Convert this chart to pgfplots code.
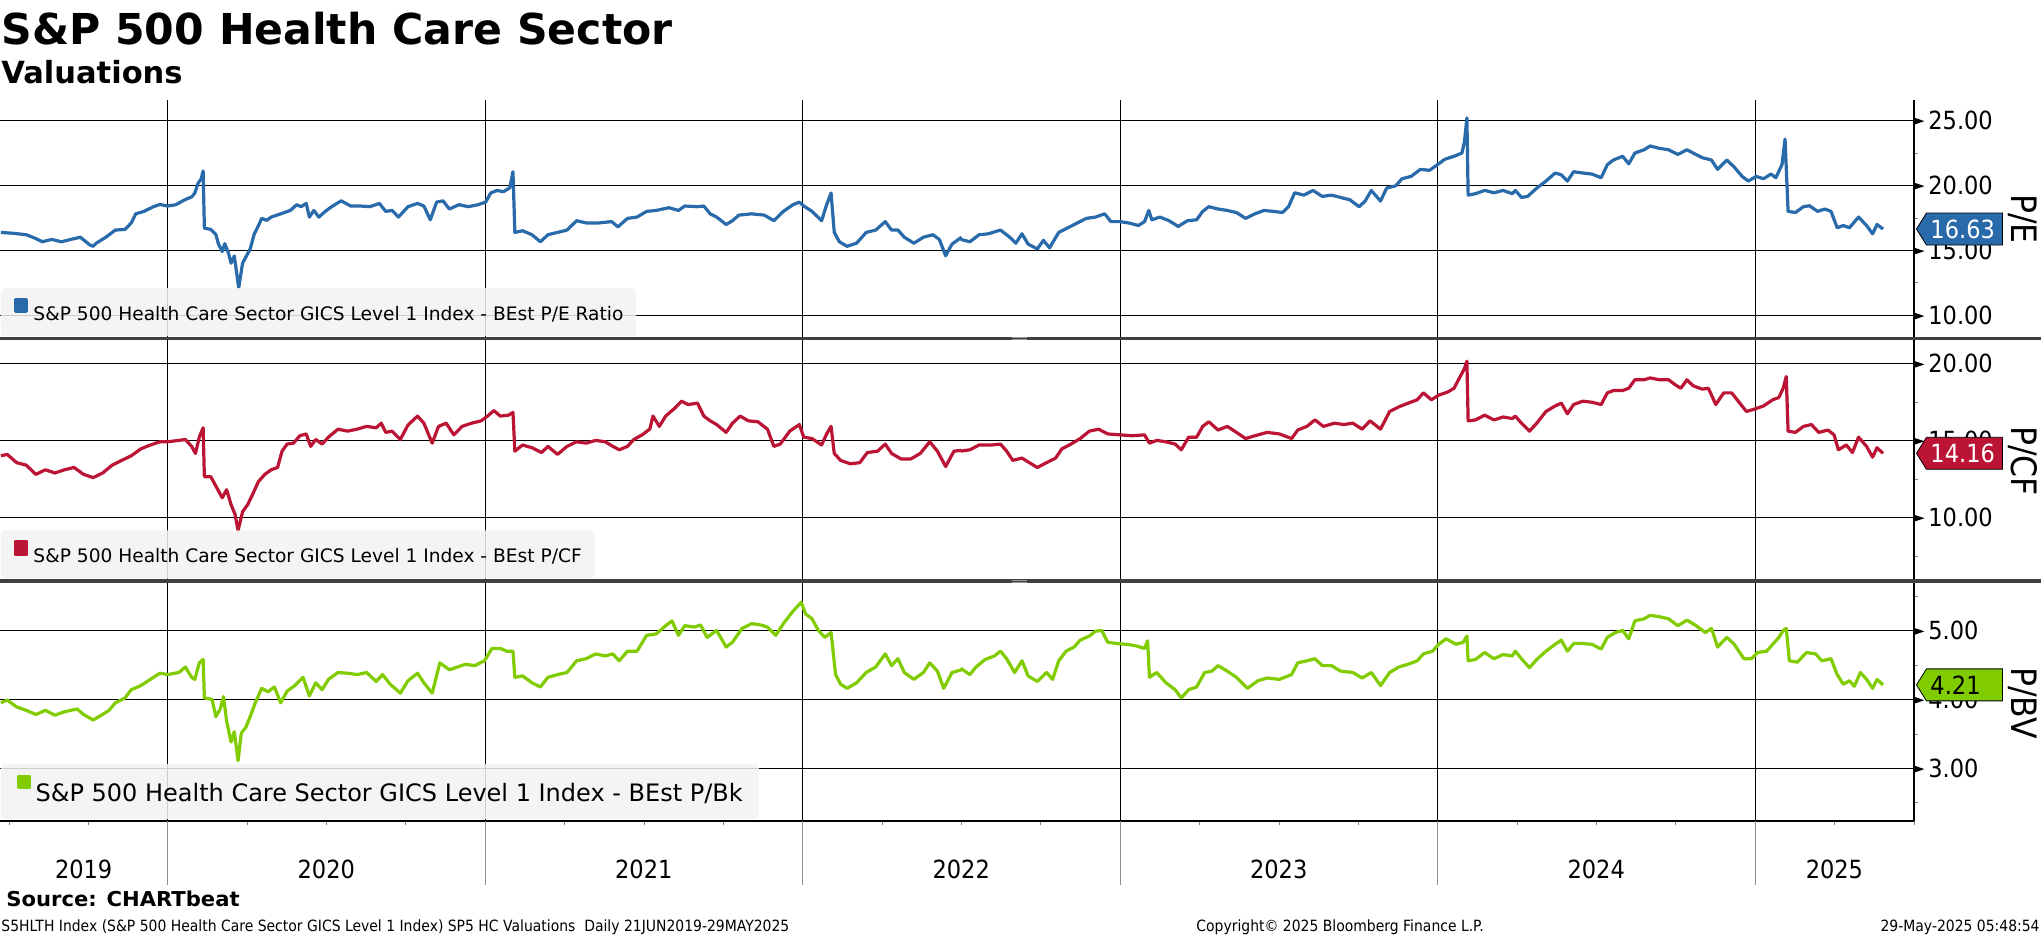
\documentclass[border=0pt]{standalone}
\usepackage{fontspec}
\setmainfont{DejaVu Sans}
\newfontfamily\tah[FakeStretch=0.9]{DejaVu Sans}
\newfontfamily\wide[FakeStretch=1.03]{DejaVu Sans}
\usepackage{pgfplots}
\usepackage{pgfplotstable}
\pgfplotsset{compat=1.18}
\usetikzlibrary{shapes.symbols}

\definecolor{pecol}{RGB}{41,106,171}
\definecolor{pcfcol}{RGB}{187,20,52}
\definecolor{pbvcol}{RGB}{128,204,0}
\definecolor{leggray}{RGB}{242,242,242}
\definecolor{sepcol}{RGB}{64,64,64}

\newcommand\tickfont{\tah\fontsize{12.5pt}{13pt}\selectfont}
\newcommand\legfontA{\fontsize{9.3pt}{10pt}\selectfont}
\newcommand\legfontB{\fontsize{12pt}{13pt}\selectfont}
\newcommand\tri{\tikz[baseline=-0.6ex]\fill[black] (0pt,1.7pt) -- (5pt,0pt) -- (0pt,-1.7pt) -- cycle;}

% ---------------- data (zx = horizontal read position, v = value) ----------------
\pgfplotstableread{
zx v
0 16.37
20 16.30
40 16.19
55 15.90
65 15.65
80 15.83
95 15.65
110 15.83
125 16.00
140 15.40
145 15.30
150 15.54
165 16.00
180 16.55
195 16.60
205 17.10
212 17.80
225 17.99
240 18.35
250 18.52
262 18.40
275 18.50
290 18.90
300 19.10
305 19.40
310 20.15
315 20.50
318 21.10
320 16.70
330 16.60
338 16.20
342 15.50
348 14.90
352 15.50
358 14.75
362 14.00
367 14.55
372 12.80
374 12.12
380 14.00
386 14.55
392 15.10
398 16.20
405 16.90
410 17.45
418 17.30
425 17.55
440 17.80
455 18.06
465 18.50
472 18.35
480 18.60
485 17.55
492 18.06
500 17.55
510 17.99
520 18.35
535 18.80
550 18.40
565 18.40
580 18.35
595 18.60
605 17.99
615 18.06
625 17.55
640 18.35
655 18.60
665 18.40
675 17.34
685 18.70
695 18.80
705 18.17
720 18.50
735 18.35
750 18.50
762 18.70
770 19.40
780 19.60
790 19.50
800 19.80
805 21.04
808 16.37
820 16.50
835 16.19
848 15.65
860 16.19
875 16.37
890 16.55
905 17.27
920 17.10
940 17.10
960 17.20
970 16.80
985 17.45
1000 17.55
1015 17.99
1030 18.06
1050 18.27
1065 18.06
1075 18.40
1095 18.35
1105 18.40
1115 17.80
1125 17.55
1140 16.98
1150 17.27
1160 17.70
1180 17.80
1200 17.70
1215 17.27
1230 17.99
1245 18.50
1255 18.70
1262 18.40
1275 17.99
1290 17.27
1298 18.50
1305 19.40
1310 16.37
1318 15.65
1330 15.30
1345 15.54
1360 16.37
1375 16.55
1390 17.20
1400 16.55
1410 16.55
1420 16.00
1435 15.54
1450 16.00
1465 16.19
1475 15.83
1485 14.57
1495 15.47
1510 16.00
}\peA
\pgfplotstableread{
zx v
0 15.83
15 15.65
30 16.19
45 16.26
65 16.55
80 16.00
90 15.54
100 16.26
110 15.47
125 15.10
135 15.76
145 15.18
160 16.37
175 16.73
190 17.09
205 17.45
220 17.55
235 17.80
245 17.20
260 17.20
275 17.09
290 16.90
300 17.20
307 18.06
312 17.34
325 17.55
340 17.27
355 16.83
370 17.27
385 17.34
395 17.99
405 18.35
420 18.17
435 18.06
450 17.90
465 17.45
480 17.80
495 18.06
510 17.99
525 17.90
535 18.35
545 19.42
560 19.24
575 19.60
590 19.14
605 19.24
620 19.06
635 18.88
650 18.35
660 18.78
670 19.60
685 18.78
695 19.78
710 19.96
720 20.50
735 20.68
750 21.22
765 21.15
780 21.65
790 22.00
805 22.23
818 22.48
822 23.38
826 25.18
828 19.24
840 19.35
855 19.60
870 19.42
885 19.60
900 19.35
905 19.60
915 19.06
925 19.14
940 19.78
955 20.32
970 20.94
980 20.80
990 20.32
1000 21.04
1015 20.94
1030 20.86
1045 20.58
1055 21.58
1065 21.94
1080 22.23
1090 21.65
1100 22.48
1115 22.73
1125 23.02
1140 22.84
1155 22.73
1170 22.37
1185 22.73
1195 22.48
1210 22.12
1225 21.94
1235 21.22
1250 21.94
1262 21.40
1275 20.68
1285 20.32
1298 20.68
1310 20.50
1322 20.86
1330 20.58
1340 21.58
1345 23.56
1350 17.99
1362 17.90
1375 18.35
1385 18.42
1398 17.99
1410 18.17
1420 17.99
1430 16.73
1440 16.90
1450 16.73
1465 17.55
1478 16.90
1488 16.26
1495 16.98
1505 16.63
}\peB
\pgfplotstableread{
zx v
0 14.00
10 14.09
25 13.55
40 13.39
55 12.79
70 13.09
85 12.88
100 13.09
115 13.24
130 12.79
145 12.58
160 12.88
175 13.39
190 13.70
205 14.00
220 14.45
235 14.70
250 14.91
262 14.91
280 15.00
290 15.06
300 14.61
306 14.15
312 15.21
318 15.82
320 12.64
330 12.64
340 11.88
348 11.27
355 11.79
362 10.82
368 10.21
373 9.15
380 10.36
388 10.82
395 11.42
405 12.33
415 12.79
425 13.09
435 13.24
442 14.30
450 14.76
460 14.82
470 15.30
480 15.42
487 14.61
495 15.06
505 14.76
515 15.21
530 15.73
545 15.60
560 15.73
575 15.91
590 15.82
598 16.12
605 15.52
615 15.60
628 15.06
640 16.00
655 16.58
665 16.12
678 14.82
688 15.91
700 16.12
712 15.36
725 15.91
740 16.12
755 16.27
765 16.58
775 16.94
785 16.58
798 16.64
805 16.82
808 14.30
820 14.70
835 14.52
850 14.21
860 14.61
875 14.09
890 14.61
905 14.91
920 14.82
935 15.00
950 14.91
962 14.61
972 14.39
985 14.61
995 15.06
1008 15.36
1020 15.73
1025 16.58
1035 15.91
1045 16.58
1060 17.12
1070 17.55
1080 17.33
1095 17.42
1105 16.58
1115 16.27
1125 16.03
1140 15.52
1150 16.12
1162 16.58
1175 16.27
1190 16.21
1205 15.73
1215 14.61
1225 14.76
1240 15.60
1255 16.03
1262 15.21
1275 15.12
1290 14.70
1298 15.42
1305 15.91
1310 14.15
1320 13.70
1335 13.48
1350 13.55
1362 14.21
1378 14.30
1390 14.76
1400 14.15
1415 13.79
1430 13.79
1445 14.15
1460 14.91
1472 14.30
1485 13.30
1498 14.30
1510 14.35
}\pcfA
\pgfplotstableread{
zx v
0 14.30
15 14.39
30 14.70
50 14.70
65 14.76
75 14.30
85 13.70
100 13.85
115 13.48
125 13.24
140 13.55
155 13.85
165 14.45
180 14.76
195 15.12
210 15.60
225 15.73
240 15.42
260 15.36
280 15.30
300 15.36
308 14.82
320 15.00
335 14.91
350 14.76
360 14.39
372 15.21
385 15.21
395 15.91
405 16.21
420 15.67
435 15.91
450 15.52
465 15.12
480 15.30
500 15.52
520 15.42
540 15.12
550 15.67
565 15.91
578 16.33
592 15.91
610 16.12
625 16.03
640 16.12
655 15.73
668 16.27
685 15.73
700 16.88
715 17.18
730 17.42
745 17.64
755 18.09
768 17.64
780 17.94
795 18.15
805 18.39
815 19.15
822 19.67
826 20.15
828 16.27
840 16.33
855 16.64
870 16.33
885 16.52
900 16.42
905 16.58
915 16.12
928 15.60
940 16.12
955 16.88
970 17.24
980 17.42
990 16.73
1000 17.33
1015 17.55
1030 17.48
1045 17.33
1055 18.09
1065 18.24
1080 18.24
1090 18.39
1100 18.94
1115 18.94
1125 19.06
1140 18.94
1155 18.94
1165 18.64
1175 18.39
1185 18.94
1195 18.55
1210 18.33
1220 18.39
1232 17.33
1245 18.09
1258 18.09
1270 17.48
1282 16.88
1295 17.03
1310 17.24
1325 17.64
1335 17.79
1342 18.39
1347 19.15
1350 15.60
1362 15.52
1375 15.91
1388 16.03
1400 15.52
1415 15.67
1425 15.36
1432 14.39
1445 14.70
1455 14.21
1465 15.21
1478 14.61
1488 13.91
1495 14.52
1505 14.16
}\pcfB
\pgfplotstableread{
zx v
0 3.95
10 3.99
25 3.89
40 3.84
55 3.78
70 3.84
85 3.77
100 3.82
120 3.86
130 3.78
145 3.70
158 3.77
170 3.84
180 3.95
195 4.02
205 4.14
220 4.20
235 4.29
250 4.38
262 4.36
280 4.39
290 4.47
300 4.32
305 4.29
312 4.53
318 4.58
320 4.02
332 4.00
338 3.75
345 3.86
350 4.04
355 3.68
362 3.38
367 3.53
373 3.11
378 3.51
385 3.59
392 3.75
400 3.95
410 4.16
420 4.11
430 4.18
440 3.95
450 4.12
462 4.20
475 4.32
485 4.05
495 4.24
505 4.14
515 4.29
530 4.39
545 4.38
560 4.36
575 4.39
590 4.26
600 4.36
612 4.22
628 4.09
640 4.27
655 4.38
665 4.24
678 4.09
690 4.53
705 4.43
718 4.47
730 4.51
745 4.49
760 4.56
772 4.74
785 4.74
795 4.70
805 4.70
808 4.32
820 4.34
835 4.24
848 4.18
860 4.32
875 4.36
890 4.39
905 4.56
920 4.59
935 4.66
950 4.63
962 4.66
972 4.56
985 4.70
1000 4.70
1015 4.93
1030 4.95
1045 5.07
1055 5.14
1065 4.93
1075 5.07
1090 5.05
1100 5.08
1110 4.90
1125 5.00
1140 4.76
1150 4.83
1165 5.03
1180 5.10
1195 5.08
1205 5.05
1218 4.93
1230 5.10
1245 5.28
1258 5.41
1265 5.24
1275 5.17
1285 5.00
1295 4.90
1305 4.97
1312 4.36
1320 4.22
1330 4.16
1345 4.24
1360 4.39
1375 4.47
1390 4.66
1400 4.49
1410 4.59
1420 4.39
1435 4.29
1450 4.39
1460 4.53
1472 4.41
1482 4.16
1495 4.39
1510 4.43
}\pbvA
\pgfplotstableread{
zx v
0 4.45
15 4.36
25 4.47
40 4.58
55 4.63
65 4.70
75 4.59
88 4.39
100 4.56
110 4.34
125 4.26
140 4.39
150 4.29
160 4.56
172 4.70
185 4.76
195 4.86
210 4.92
220 4.99
230 5.00
240 4.83
255 4.81
270 4.80
285 4.78
300 4.74
305 4.85
308 4.32
320 4.39
335 4.24
350 4.14
360 4.02
372 4.14
385 4.18
398 4.39
410 4.41
420 4.49
435 4.41
450 4.32
468 4.16
485 4.27
500 4.31
520 4.29
540 4.36
550 4.53
565 4.56
578 4.59
590 4.49
605 4.49
620 4.41
640 4.39
655 4.31
670 4.39
685 4.20
700 4.39
715 4.47
730 4.51
745 4.56
755 4.66
770 4.70
780 4.80
792 4.88
808 4.80
820 4.83
826 4.92
828 4.56
840 4.58
855 4.68
870 4.59
885 4.65
900 4.63
905 4.70
915 4.59
928 4.46
940 4.58
955 4.70
970 4.80
980 4.86
990 4.70
1000 4.81
1015 4.81
1030 4.80
1045 4.73
1055 4.90
1068 4.97
1080 5.00
1090 4.88
1100 5.14
1115 5.17
1125 5.22
1140 5.20
1155 5.17
1170 5.07
1185 5.15
1200 5.07
1215 4.97
1225 5.03
1235 4.76
1250 4.90
1262 4.80
1278 4.59
1290 4.59
1300 4.68
1315 4.70
1325 4.80
1335 4.90
1342 5.00
1347 5.03
1352 4.56
1365 4.54
1380 4.68
1395 4.66
1405 4.56
1420 4.59
1430 4.36
1440 4.22
1450 4.27
1458 4.19
1468 4.39
1478 4.29
1488 4.16
1495 4.29
1505 4.21
}\pbvB

\pgfplotsset{
  panel/.style={
    scale only axis, width=957pt, clip=false,
    xmin=2019.4724, xmax=2025.5008,
    axis y line*=right, axis x line*=bottom,
    axis line style={-, black, line width=0.65pt},
    xtick={2020,2021,2022,2023,2024,2025}, xticklabels={},
    xmajorgrids=true, ymajorgrids=true,
    major grid style={black, line width=0.5pt},
    major tick length=0pt, minor tick length=2pt, tick align=outside,
    y tick label style={font=\tickfont, anchor=west, xshift=0pt, inner sep=0pt},
    yticklabel={\tri\hspace{2pt}\pgfmathprintnumber[fixed,fixed zerofill,precision=2,assume math mode=true]{\tick}},
    legend cell align=left,
  },
  legA/.style={
    legend style={at={(0,0)}, anchor=south west, xshift=0.5pt, yshift=1.25pt,
      fill=leggray, fill opacity=0.85, text opacity=1, draw=none, rounded corners=2pt,
      inner xsep=6.4pt, inner ysep=5pt, outer sep=0pt, font=\legfontA,
      nodes={inner sep=0pt, text height=10.5pt, text depth=3pt},
      /tikz/every odd column/.append style={column sep=2.55pt}},
    legend image code/.code={\fill[##1, fill opacity=1, sharp corners] (0pt,0.5pt) rectangle (5.7pt,6.5pt);},
  },
  legB/.style={
    legend style={at={(0,0)}, anchor=south west, xshift=0.5pt, yshift=1pt,
      fill=leggray, fill opacity=0.85, text opacity=1, draw=none, rounded corners=2pt,
      inner xsep=8pt, inner ysep=5pt, outer sep=0pt, font=\legfontB,
      nodes={inner sep=0pt, text height=13.85pt, text depth=3.65pt},
      /tikz/every odd column/.append style={column sep=2.5pt}},
    legend image code/.code={\fill[##1, fill opacity=1, sharp corners] (0pt,1.9pt) rectangle (5.2pt,7.6pt);},
  },
  serie/.style={line width=1.6pt, line join=round, mark=none, color=#1},
  badge/.style 2 args={forget plot, draw=none, mark=none, nodes near coords,
    point meta=explicit symbolic,
    every node near coord/.append style={shape=signal, signal to=west,
      signal pointer angle=116, fill=#1, draw=black, line width=0.4pt, text=#2,
      font=\tickfont, anchor=west, xshift=1pt, inner xsep=2pt, inner ysep=0pt,
      minimum height=16pt, text width=34pt, align=left, sharp corners}},
}

\begin{document}
\begin{tikzpicture}
\useasboundingbox (0,0) rectangle (1020.5pt,-468pt);

% ---------- P/E ----------
\begin{axis}[panel, legA, at={(0pt,-50pt)}, anchor=north west, height=119.35pt,
  ymin=8.19, ymax=26.56, ytick={10,15,20,25}, minor ytick={12.5,17.5,22.5}]
\addplot[serie=pecol] table[x expr={2020+(\thisrow{zx}-262)/499}, y=v] {\peA};
\addlegendentry{S\&P 500 Health Care Sector GICS Level 1 Index - BEst P/E Ratio}
\addplot[serie=pecol, forget plot] table[x expr={2023+(\thisrow{zx}-260)/518}, y=v] {\peB};
\addplot[badge={pecol}{white}] coordinates {(2025.5008,16.63) [16.63]};
\end{axis}

% ---------- P/CF ----------
\begin{axis}[panel, legA, at={(0pt,-169.35pt)}, anchor=north west, height=121.15pt,
  ymin=5.86, ymax=21.61, ytick={10,15,20}, minor ytick={7.5,12.5,17.5}]
\addplot[serie=pcfcol] table[x expr={2020+(\thisrow{zx}-262)/499}, y=v] {\pcfA};
\addlegendentry{S\&P 500 Health Care Sector GICS Level 1 Index - BEst P/CF}
\addplot[serie=pcfcol, forget plot] table[x expr={2023+(\thisrow{zx}-260)/518}, y=v] {\pcfB};
\addplot[badge={pcfcol}{white}] coordinates {(2025.5008,14.16) [14.16]};
\end{axis}

% ---------- P/BV ----------
\begin{axis}[panel, legB, at={(0pt,-290.5pt)}, anchor=north west, height=120pt,
  ymin=2.233, ymax=5.719, ytick={3,4,5}, minor ytick={2.5,3.5,4.5,5.5},
  minor xtick={2019.5,2019.75,2020,2020.25,2020.5,2020.75,2021,2021.25,2021.5,2021.75,2022,2022.25,2022.5,2022.75,2023,2023.25,2023.5,2023.75,2024,2024.25,2024.5,2024.75,2025,2025.25,2025.5},
  extra x ticks={2019.736,2020.5,2021.5,2022.5,2023.5,2024.5,2025.25},
  extra x tick labels={2019,2020,2021,2022,2023,2024,2025},
  extra x tick style={grid=none, xticklabel style={font=\tickfont, anchor=base, yshift=-28.5pt, inner sep=0pt}}]
\addplot[serie=pbvcol] table[x expr={2020+(\thisrow{zx}-262)/499}, y=v] {\pbvA};
\addlegendentry{S\&P 500 Health Care Sector GICS Level 1 Index - BEst P/Bk}
\addplot[serie=pbvcol, forget plot] table[x expr={2023+(\thisrow{zx}-260)/518}, y=v] {\pbvB};
\addplot[badge={pbvcol}{black}] coordinates {(2025.5008,4.21) [4.21]};
\end{axis}

% year separators below the axis
\foreach \k in {0,...,5} {\draw[black!45, line width=0.5pt] (83.75pt+\k*158.75pt,-410.5pt) -- ++(0pt,-32pt);}

% separators
\draw[sepcol, line width=1.75pt] (0pt,-169.35pt) -- (1020.5pt,-169.35pt);
\draw[sepcol, line width=1.75pt] (0pt,-290.5pt) -- (1020.5pt,-290.5pt);
\foreach \yy in {-169.35pt,-290.5pt} {
  \draw[white!60!black, line width=0.3pt] (506pt,\yy+0.45pt) -- (513.5pt,\yy+0.45pt);
  \draw[white!60!black, line width=0.3pt] (506pt,\yy-0.45pt) -- (513.5pt,\yy-0.45pt);
}

% right labels
\node[rotate=-90, inner sep=0pt, font=\tah\fontsize{17.5pt}{18pt}\selectfont] at (1011.25pt,-109.5pt) {P/E};
\node[rotate=-90, inner sep=0pt, font=\tah\fontsize{17.5pt}{18pt}\selectfont] at (1011.25pt,-230.5pt) {P/CF};
\node[rotate=-90, inner sep=0pt, font=\tah\fontsize{17.5pt}{18pt}\selectfont] at (1011.25pt,-351.5pt) {P/BV};

% titles
\node[anchor=base west, inner sep=0pt, font=\bfseries\fontsize{21.3pt}{22pt}\selectfont] at (0.5pt,-22.5pt) {S\&P 500 Health Care Sector};
\node[anchor=base west, inner sep=0pt, font=\bfseries\fontsize{15.25pt}{16pt}\selectfont] at (0.5pt,-41.65pt) {Valuations};

% footer
\node[anchor=base west, inner sep=0pt, font=\wide\bfseries\fontsize{10.25pt}{11pt}\selectfont] at (3pt,-453.35pt) {Source: CHARTbeat};
\node[anchor=base west, inner sep=0pt, font=\tah\fontsize{7.75pt}{8pt}\selectfont] at (0.5pt,-465.5pt) {S5HLTH Index (S\&P 500 Health Care Sector GICS Level 1 Index) SP5 HC Valuations\ \ Daily 21JUN2019-29MAY2025};
\node[anchor=base west, inner sep=0pt, font=\tah\fontsize{7.75pt}{8pt}\selectfont] at (598pt,-465.5pt) {Copyright© 2025 Bloomberg Finance L.P.};
\node[anchor=base east, inner sep=0pt, font=\tah\fontsize{7.75pt}{8pt}\selectfont] at (1020pt,-465.5pt) {29-May-2025 05:48:54};
\end{tikzpicture}
\end{document}
